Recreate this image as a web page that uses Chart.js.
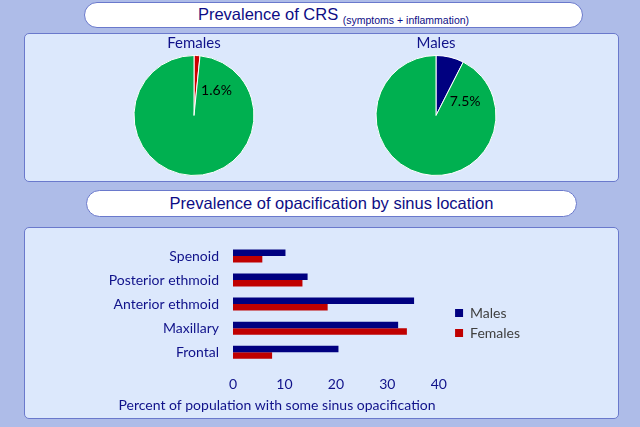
<!DOCTYPE html>
<html>
<head>
<meta charset="utf-8">
<script src="https://cdn.jsdelivr.net/npm/chart.js@4.4.0/dist/chart.umd.min.js"></script>
<style>
html, body { margin: 0; padding: 0; }
body { width: 640px; height: 427px; background: #aebce8; position: relative; overflow: hidden; font-family: Lato, sans-serif; }
.pill { position: absolute; background: #fff; border: 1.5px solid #6a79cc; border-radius: 14px; box-sizing: border-box;
        text-align: center; font-family: "Liberation Sans", Arial, sans-serif; font-size: 16.5px; color: #0d0d85; }
.pill small { font-size: 10.5px; position: relative; top: 4px; }
.panel { position: absolute; background: #dce8fc; border: 1.5px solid #6a79cc; border-radius: 5px; box-sizing: border-box; }
canvas { position: absolute; }
</style>
</head>
<body>
<div class="pill" style="left:84px; top:2px; width:499px; height:26px; line-height:23px;">Prevalence of CRS <small>(symptoms + inflammation)</small></div>
<div class="panel" style="left:24px; top:33px; width:595px; height:149px;"></div>
<div class="pill" style="left:86px; top:190px; width:491px; height:27px; line-height:24px;">Prevalence of opacification by sinus location</div>
<div class="panel" style="left:24px; top:227px; width:595px; height:192px;"></div>

<canvas id="femalePie" width="122" height="144" style="left:133px; top:32px;"></canvas>
<canvas id="malePie" width="122" height="144" style="left:375px; top:32px;"></canvas>
<canvas id="sinusBars" width="595" height="190" style="left:24px; top:228px;"></canvas>

<script>
// CRS prevalence (percent)
const pieLabels = ['CRS', 'No CRS'];
const femaleCrs = [1.6, 98.4];
const maleCrs = [7.5, 92.5];

// opacification by sinus location (percent)
const sinusLocations = ['Spenoid', 'Posterior ethmoid', 'Anterior ethmoid', 'Maxillary', 'Frontal'];
const maleOpacification = [10.2, 14.5, 35.2, 32.1, 20.5];
const femaleOpacification = [5.7, 13.5, 18.4, 33.8, 7.6];
const xTicks = [0, 10, 20, 30, 40];

const navy = '#10128a';
const font14 = { family: 'Lato', size: 14 };

// puts the "x.x%" text of the first slice inside the pie
const sliceLabel = {
    id: 'sliceLabel',
    afterDatasetsDraw(chart, args, opts) {
        const arc = chart.getDatasetMeta(0).data[0];
        const p = arc.getProps(['x', 'y', 'outerRadius'], true);
        const a = (opts.angle - 90) * Math.PI / 180;
        const ctx = chart.ctx;
        ctx.save();
        ctx.font = '14px Lato';
        ctx.fillStyle = '#000';
        ctx.textAlign = 'center';
        ctx.textBaseline = 'middle';
        ctx.fillText(chart.data.datasets[0].data[0].toFixed(1) + '%',
            p.x + Math.cos(a) * p.outerRadius * opts.dist,
            p.y + Math.sin(a) * p.outerRadius * opts.dist);
        ctx.restore();
    }
};

function pieChart(id, title, values, colors, angle, dist) {
    return new Chart(document.getElementById(id).getContext('2d'), {
        type: 'pie',
        data: {
            labels: pieLabels,
            datasets: [{ data: values, backgroundColor: colors, borderColor: '#ffffff', borderWidth: 1 }]
        },
        options: {
            responsive: false,
            animation: false,
            plugins: {
                legend: { display: false },
                tooltip: { enabled: false },
                title: { display: true, text: title, color: navy, font: { family: 'Lato', size: 15, weight: 'normal' }, padding: { top: 2, bottom: 3 } },
                sliceLabel: { angle: angle, dist: dist }
            }
        },
        plugins: [sliceLabel]
    });
}

pieChart('femalePie', 'Females', femaleCrs, ['#cc0000', '#00b050'], 42, 0.56);
pieChart('malePie', 'Males', maleCrs, ['#000080', '#00b050'], 64, 0.54);

new Chart(document.getElementById('sinusBars').getContext('2d'), {
    type: 'bar',
    data: {
        labels: sinusLocations,
        datasets: [
            { label: 'Males', data: maleOpacification, backgroundColor: '#000080', categoryPercentage: 0.54, barPercentage: 1.0 },
            { label: 'Females', data: femaleOpacification, backgroundColor: '#c00000', categoryPercentage: 0.54, barPercentage: 1.0 }
        ]
    },
    options: {
        indexAxis: 'y',
        responsive: false,
        animation: false,
        layout: { padding: { top: 16, right: 89, bottom: 0, left: 0 } },
        scales: {
            x: {
                min: 0, max: 42,
                grid: { display: false, drawTicks: false },
                border: { display: false },
                ticks: { color: navy, font: font14, padding: 12 },
                afterBuildTicks: s => { s.ticks = xTicks.map(v => ({ value: v })); },
                afterFit: s => { s.height = 29; }
            },
            y: {
                grid: { display: false, drawTicks: false },
                border: { display: false },
                ticks: { color: navy, font: font14, padding: 14 },
                afterFit: s => { s.width = 209; s.paddingTop = 0; s.paddingBottom = 0; }
            }
        },
        plugins: {
            tooltip: { enabled: false },
            legend: {
                position: 'right',
                align: 'start',
                labels: { boxWidth: 8, boxHeight: 8, padding: 6, color: '#404040', font: font14 },
                title: { display: true, text: '', font: font14, padding: 19.6 }
            },
            title: {
                display: true, position: 'bottom',
                text: 'Percent of population with some sinus opacification',
                color: navy, font: { family: 'Lato', size: 14, weight: 'normal' },
                padding: { top: 4, bottom: 4 }
            }
        }
    }
});
</script>
</body>
</html>
